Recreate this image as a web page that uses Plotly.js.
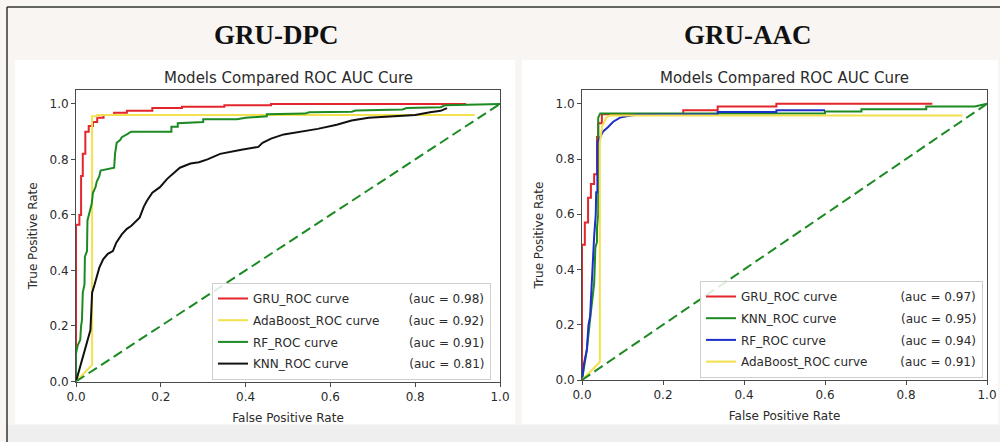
<!DOCTYPE html>
<html>
<head>
<meta charset="utf-8">
<script src="https://cdn.plot.ly/plotly-3.0.1.min.js"></script>
<style>
  html, body { margin: 0; padding: 0; background: #f8f5f3; }
  #chart { width: 1000px; height: 442px; }
</style>
</head>
<body>
<div id="chart"></div>
<script>
// ---------------- DATA ----------------
const panelTitles = ["GRU-DPC", "GRU-AAC"];
const subTitle = "Models Compared ROC AUC Cure";
const xLabel = "False Positive Rate";
const yLabel = "True Positive Rate";
const tickVals = [0, 0.2, 0.4, 0.6, 0.8, 1.0];

// GRU-DPC panel
const dpcNames = ["GRU_ROC curve", "AdaBoost_ROC curve", "RF_ROC curve", "KNN_ROC curve"];
const dpcAuc = [0.98, 0.92, 0.91, 0.81];

const dpcGruFpr = [0, 0, 0.008, 0.008, 0.012, 0.012, 0.016, 0.016, 0.022, 0.022, 0.03, 0.03, 0.04, 0.04, 0.05, 0.05, 0.065, 0.065, 0.09, 0.09, 0.12, 0.12, 0.18, 0.18, 0.25, 0.25, 0.35, 0.35, 0.46, 0.46, 0.92];
const dpcGruTpr = [0, 0.565, 0.565, 0.6, 0.6, 0.74, 0.74, 0.82, 0.82, 0.9, 0.9, 0.92, 0.92, 0.935, 0.935, 0.95, 0.95, 0.96, 0.96, 0.968, 0.968, 0.975, 0.975, 0.985, 0.985, 0.99, 0.99, 0.995, 0.995, 1.0, 1.0];

const dpcAdaFpr = [0, 0.038, 0.038, 0.05, 0.05, 0.94];
const dpcAdaTpr = [0, 0.06, 0.955, 0.955, 0.96, 0.96];

const dpcRfFpr = [0, 0, 0.004, 0.01, 0.012, 0.014, 0.016, 0.02, 0.021, 0.026, 0.027, 0.03, 0.033, 0.037, 0.04, 0.046, 0.049, 0.055, 0.058, 0.075, 0.09, 0.092, 0.096, 0.104, 0.108, 0.12, 0.13, 0.225, 0.225, 0.24, 0.24, 0.3, 0.3, 0.38, 0.4, 0.45, 0.45, 0.54, 0.55, 0.65, 0.66, 0.77, 0.78, 0.86, 0.87, 0.95, 1.0];
const dpcRfTpr = [0, 0.1, 0.13, 0.15, 0.2, 0.22, 0.32, 0.35, 0.45, 0.47, 0.58, 0.6, 0.62, 0.64, 0.68, 0.7, 0.72, 0.74, 0.76, 0.765, 0.77, 0.82, 0.86, 0.87, 0.88, 0.89, 0.9, 0.9, 0.918, 0.918, 0.93, 0.935, 0.945, 0.945, 0.95, 0.955, 0.963, 0.965, 0.97, 0.972, 0.976, 0.98, 0.985, 0.988, 0.995, 0.998, 1.0];

const dpcKnnFpr = [0, 0.034, 0.036, 0.038, 0.044, 0.049, 0.055, 0.064, 0.075, 0.087, 0.095, 0.108, 0.12, 0.13, 0.15, 0.16, 0.167, 0.18, 0.198, 0.215, 0.23, 0.245, 0.27, 0.29, 0.31, 0.34, 0.39, 0.43, 0.44, 0.46, 0.49, 0.53, 0.57, 0.615, 0.65, 0.69, 0.77, 0.8, 0.835, 0.86, 0.875];
const dpcKnnTpr = [0, 0.185, 0.25, 0.32, 0.35, 0.38, 0.41, 0.44, 0.46, 0.47, 0.5, 0.53, 0.55, 0.56, 0.59, 0.63, 0.65, 0.68, 0.7, 0.73, 0.75, 0.77, 0.785, 0.79, 0.8, 0.82, 0.835, 0.845, 0.86, 0.875, 0.89, 0.9, 0.91, 0.925, 0.94, 0.95, 0.956, 0.96, 0.97, 0.975, 0.985];

// GRU-AAC panel
const aacNames = ["GRU_ROC curve", "KNN_ROC curve", "RF_ROC curve", "AdaBoost_ROC curve"];
const aacAuc = [0.97, 0.95, 0.94, 0.91];

const aacGruFpr = [0, 0, 0.007, 0.007, 0.015, 0.015, 0.022, 0.022, 0.03, 0.03, 0.037, 0.037, 0.04, 0.04, 0.049, 0.049, 0.25, 0.25, 0.335, 0.335, 0.48, 0.48, 0.865];
const aacGruTpr = [0, 0.49, 0.49, 0.57, 0.57, 0.66, 0.66, 0.71, 0.71, 0.745, 0.745, 0.88, 0.88, 0.93, 0.93, 0.962, 0.962, 0.977, 0.977, 0.99, 0.99, 1.0, 1.0];

const aacKnnFpr = [0, 0.005, 0.012, 0.02, 0.025, 0.03, 0.033, 0.037, 0.037, 0.04, 0.04, 0.045, 0.6, 0.6, 0.69, 0.69, 0.85, 0.85, 0.97, 1.0];
const aacKnnTpr = [0, 0.05, 0.11, 0.22, 0.3, 0.35, 0.48, 0.5, 0.55, 0.6, 0.95, 0.965, 0.965, 0.972, 0.972, 0.98, 0.98, 0.99, 0.99, 1.0];

const aacRfFpr = [0, 0.005, 0.012, 0.016, 0.02, 0.024, 0.026, 0.03, 0.034, 0.035, 0.038, 0.038, 0.045, 0.052, 0.064, 0.077, 0.094, 0.11, 0.135, 0.335, 0.335, 0.48, 0.48, 0.6];
const aacRfTpr = [0, 0.06, 0.11, 0.2, 0.23, 0.35, 0.42, 0.52, 0.6, 0.68, 0.68, 0.86, 0.88, 0.9, 0.915, 0.935, 0.95, 0.955, 0.96, 0.962, 0.97, 0.97, 0.977, 0.977];

const aacAdaFpr = [0, 0.044, 0.044, 0.05, 0.06, 0.07, 0.94];
const aacAdaTpr = [0, 0.065, 0.86, 0.92, 0.95, 0.958, 0.958];

const diagX = [0, 1];
const diagY = [0, 1];

// ---------------- STYLE ----------------
const FONT = "DejaVu Sans";
const TXT = "#2b2b2b";
const colors = { red: "#e3262b", yellow: "#f2e04c", green: "#1c8a22", black: "#111111", blue: "#1d2fc8" };
const dpcColors = [colors.red, colors.yellow, colors.green, colors.black];
const aacColors = [colors.red, colors.green, colors.blue, colors.yellow];

// pad the legend name so the "(auc = ..)" column lines up
const cv = document.createElement("canvas").getContext("2d");
cv.font = "12px '" + FONT + "'";
const NB = "\u00a0", HAIR = "\u200a";
const hairW = cv.measureText(HAIR).width;
function label(name, auc, target) {
  let s = name;
  while (cv.measureText(s + NB).width <= target) s += NB;
  if (hairW > 0.3) {
    let guard = 0;
    while (cv.measureText(s + HAIR).width <= target + 0.5 && guard++ < 40) s += HAIR;
  }
  return s + "(auc = " + auc.toFixed(2) + ")";
}

const traces = [];
const dpcData = [[dpcGruFpr, dpcGruTpr], [dpcAdaFpr, dpcAdaTpr], [dpcRfFpr, dpcRfTpr], [dpcKnnFpr, dpcKnnTpr]];
dpcData.forEach((d, i) => {
  traces.push({
    type: "scatter", mode: "lines", x: d[0], y: d[1], xaxis: "x", yaxis: "y",
    name: label(dpcNames[i], dpcAuc[i], 156), legend: "legend", legendgroup: "d" + i,
    line: { color: dpcColors[i], width: 2 }, hoverinfo: "skip"
  });
});
traces.push({ type: "scatter", mode: "lines", x: diagX, y: diagY, xaxis: "x", yaxis: "y", showlegend: false,
  line: { color: colors.green, width: 2, dash: "10px,5px" }, hoverinfo: "skip" });

const aacData = [[aacGruFpr, aacGruTpr], [aacKnnFpr, aacKnnTpr], [aacRfFpr, aacRfTpr], [aacAdaFpr, aacAdaTpr]];
aacData.forEach((d, i) => {
  traces.push({
    type: "scatter", mode: "lines", x: d[0], y: d[1], xaxis: "x2", yaxis: "y2",
    name: label(aacNames[i], aacAuc[i], 160), legend: "legend2", legendgroup: "a" + i,
    line: { color: aacColors[i], width: 2 }, hoverinfo: "skip"
  });
});
traces.push({ type: "scatter", mode: "lines", x: diagX, y: diagY, xaxis: "x2", yaxis: "y2", showlegend: false,
  line: { color: colors.green, width: 2, dash: "10px,5px" }, hoverinfo: "skip" });

function xAxis(domain, anchor) {
  return {
    domain: domain, anchor: anchor, range: [0, 1], tickvals: tickVals, tickformat: ".1f",
    showgrid: false, zeroline: false, showline: true, mirror: true, linecolor: "#4a4a4a", linewidth: 1,
    ticks: "outside", ticklen: 4, tickcolor: "#4a4a4a", tickfont: { family: FONT, size: 12, color: TXT },
    title: { text: xLabel, font: { family: FONT, size: 12, color: TXT }, standoff: 10 }, fixedrange: true
  };
}
function yAxis(domain, anchor) {
  return {
    domain: domain, anchor: anchor, range: [0, 1.05], tickvals: tickVals, tickformat: ".1f",
    showgrid: false, zeroline: false, showline: true, mirror: true, linecolor: "#4a4a4a", linewidth: 1,
    ticks: "outside", ticklen: 4, tickcolor: "#4a4a4a", tickfont: { family: FONT, size: 12, color: TXT },
    title: { text: yLabel, font: { family: FONT, size: 12, color: TXT }, standoff: 9 }, fixedrange: true
  };
}
function legendCfg(x, yTop) {
  return {
    x: x, y: yTop, xanchor: "left", yanchor: "top", bgcolor: "rgba(255,255,255,0.85)",
    bordercolor: "#cfcfcf", borderwidth: 1, font: { family: FONT, size: 12, color: TXT },
    tracegroupgap: 2.7, itemwidth: 30, itemclick: false, itemdoubleclick: false
  };
}

const H = 442;
const layout = {
  width: 1000, height: 442,
  margin: { l: 0, r: 0, t: 0, b: 0 },
  paper_bgcolor: "#f8f5f3", plot_bgcolor: "#ffffff",
  showlegend: true,
  xaxis: xAxis([0.076, 0.5], "y"),
  yaxis: yAxis([1 - 381.5 / H, 1 - 90 / H], "x"),
  xaxis2: xAxis([0.582, 0.987], "y2"),
  yaxis2: yAxis([1 - 380 / H, 1 - 90 / H], "x2"),
  legend: legendCfg(0.212, 1 - 283 / H),
  legend2: legendCfg(0.700, 1 - 281 / H),
  shapes: [
    { type: "rect", xref: "paper", yref: "paper", x0: 0.015, x1: 0.515, y0: 1 - 424 / H, y1: 1 - 60 / H,
      fillcolor: "#ffffff", line: { width: 0 }, layer: "below" },
    { type: "rect", xref: "paper", yref: "paper", x0: 0.522, x1: 0.998, y0: 1 - 424 / H, y1: 1 - 60 / H,
      fillcolor: "#ffffff", line: { width: 0 }, layer: "below" },
    { type: "rect", xref: "paper", yref: "paper", x0: 0.007, x1: 1, y0: 0, y1: 1 - 425 / H,
      fillcolor: "#efefef", line: { width: 0 }, layer: "below" },
    { type: "line", xref: "paper", yref: "paper", x0: 0.007, x1: 1, y0: 1 - 7 / H, y1: 1 - 7 / H,
      line: { color: "#333333", width: 1.5 }, layer: "above" },
    { type: "line", xref: "paper", yref: "paper", x0: 0.007, x1: 0.007, y0: 0, y1: 1 - 7 / H,
      line: { color: "#333333", width: 1.5 }, layer: "above" }
  ],
  annotations: [
    { text: panelTitles[0], xref: "paper", yref: "paper", x: 0.276, y: 1 - 35 / H, showarrow: false,
      xanchor: "center", yanchor: "middle", font: { family: "Liberation Serif", size: 27, color: "#111", weight: 700 } },
    { text: panelTitles[1], xref: "paper", yref: "paper", x: 0.748, y: 1 - 35 / H, showarrow: false,
      xanchor: "center", yanchor: "middle", font: { family: "Liberation Serif", size: 27, color: "#111", weight: 700 } },
    { text: subTitle, xref: "paper", yref: "paper", x: 0.288, y: 1 - 78 / H, showarrow: false,
      xanchor: "center", yanchor: "middle", font: { family: FONT, size: 15, color: TXT } },
    { text: subTitle, xref: "paper", yref: "paper", x: 0.7845, y: 1 - 78 / H, showarrow: false,
      xanchor: "center", yanchor: "middle", font: { family: FONT, size: 15, color: TXT } }
  ]
};

Plotly.newPlot("chart", traces, layout, { staticPlot: true, displayModeBar: false });
</script>
</body>
</html>
